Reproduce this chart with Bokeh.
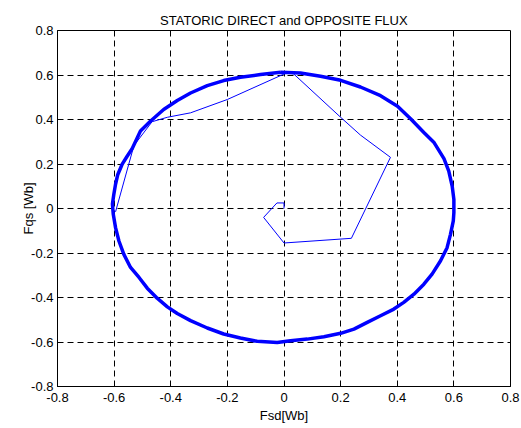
from bokeh.plotting import figure
from bokeh.models import Range1d, FixedTicker
from bokeh.embed import file_html
from bokeh.resources import INLINE

title_text = "STATORIC DIRECT and OPPOSITE FLUX"
x_label = "Fsd[Wb]"
y_label = "Fqs [Wb]"
tick_values = [-0.8, -0.6, -0.4, -0.2, 0.0, 0.2, 0.4, 0.6, 0.8]
tick_labels = ["-0.8", "-0.6", "-0.4", "-0.2", "0", "0.2", "0.4", "0.6", "0.8"]

# start-up transient of the flux trajectory
trans_x = [0.0, 0.0, -0.025, -0.072, 0.0, 0.238, 0.376, 0.27, 0.2, 0.034, 0.01,
           -0.2, -0.33, -0.412, -0.466, -0.53, -0.595]
trans_y = [0.0, 0.025, 0.025, -0.04, -0.155, -0.134, 0.23, 0.33, 0.41, 0.605, 0.61,
           0.49, 0.43, 0.41, 0.39, 0.283, -0.015]

# steady-state circular locus (read point by point, clockwise from the top)
circ_x = [-0.012, 0.058, 0.129, 0.2, 0.27, 0.341, 0.401, 0.448, 0.494, 0.529, 0.565,
          0.582, 0.594, 0.6, 0.6, 0.598, 0.588, 0.576, 0.553, 0.523, 0.494, 0.459,
          0.423, 0.388, 0.341, 0.294, 0.247, 0.2, 0.141, 0.082, 0.023, -0.024,
          -0.095, -0.154, -0.213, -0.271, -0.33, -0.377, -0.412, -0.448, -0.483,
          -0.512, -0.542, -0.566, -0.583, -0.595, -0.603, -0.606, -0.601, -0.595,
          -0.587, -0.572, -0.554, -0.536, -0.507, -0.472, -0.425, -0.377, -0.33,
          -0.271, -0.213, -0.154, -0.083, -0.012]
circ_y = [0.612, 0.609, 0.594, 0.576, 0.546, 0.507, 0.46, 0.402, 0.342, 0.298, 0.224,
          0.168, 0.101, 0.041, -0.019, -0.056, -0.116, -0.176, -0.235, -0.295, -0.34,
          -0.385, -0.422, -0.452, -0.482, -0.512, -0.542, -0.561, -0.576, -0.587,
          -0.594, -0.602, -0.597, -0.582, -0.564, -0.537, -0.504, -0.472, -0.442,
          -0.403, -0.358, -0.31, -0.265, -0.205, -0.146, -0.086, -0.026, 0.02,
          0.064, 0.109, 0.153, 0.198, 0.235, 0.27, 0.348, 0.392, 0.445, 0.485,
          0.519, 0.552, 0.575, 0.59, 0.602, 0.612]

FONT = "Liberation Sans"

p = figure(frame_width=453, frame_height=356, output_backend="svg", toolbar_location=None,
           x_range=Range1d(-0.8, 0.8), y_range=Range1d(-0.8, 0.8),
           min_border_left=57, min_border_right=10, min_border_top=30, min_border_bottom=41)

p.title.text = title_text
p.title.align = "center"
p.title.vertical_align = "middle"
p.title.text_font = FONT
p.title.text_font_style = "normal"
p.title.text_font_size = "13px"
p.title.text_color = "black"
p.title.offset = 0
p.title.standoff = 4

p.line(circ_x, circ_y, line_color="#0000ff", line_width=3.5)
p.line(trans_x, trans_y, line_color="#0000ff", line_width=1)

overrides = {v: l for v, l in zip(tick_values, tick_labels)}
for ax in (p.xaxis[0], p.yaxis[0]):
    ax.ticker = FixedTicker(ticks=tick_values)
    ax.major_label_overrides = overrides
    ax.major_tick_in = 5
    ax.major_tick_out = 0
    ax.minor_tick_in = 0
    ax.minor_tick_out = 0
    ax.axis_line_color = "black"
    ax.major_tick_line_color = "black"
    ax.major_label_text_font = FONT
    ax.major_label_text_font_size = "13px"
    ax.major_label_text_color = "black"
    ax.axis_label_text_font = FONT
    ax.axis_label_text_font_size = "13px"
    ax.axis_label_text_font_style = "normal"
    ax.axis_label_text_color = "black"

p.xaxis[0].major_label_standoff = 6
p.xaxis[0].axis_label_standoff = 3
p.yaxis[0].major_label_standoff = 4
p.yaxis[0].axis_label_standoff = -8

p.xaxis.axis_label = x_label
p.yaxis.axis_label = y_label

for g in (p.xgrid[0], p.ygrid[0]):
    g.ticker = FixedTicker(ticks=tick_values)
    g.grid_line_color = "black"
    g.grid_line_dash = "6 4"
    g.grid_line_width = 1

p.outline_line_color = "black"
p.outline_line_alpha = 1
p.background_fill_color = "white"
p.border_fill_color = "white"

open("out.html", "w").write(file_html(p, INLINE))
